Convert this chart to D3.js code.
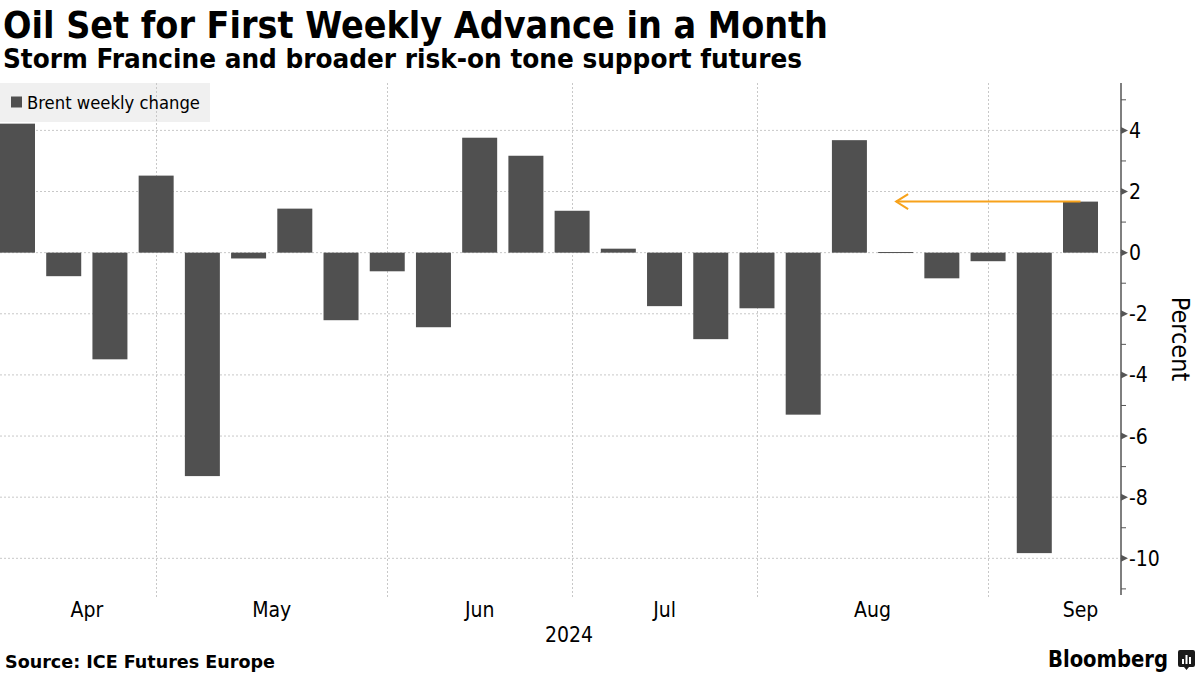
<!DOCTYPE html>
<html>
<head>
<meta charset="utf-8">
<script src="https://cdn.jsdelivr.net/npm/d3@7"></script>
<style>
  html, body { margin: 0; padding: 0; background: #fff; }
  svg { display: block; }
  text { font-family: 'Liberation Sans Narrow', 'DejaVu Sans Condensed', 'Liberation Sans', sans-serif; fill: #000; }
</style>
</head>
<body>
<svg id="chart" width="1200" height="675"></svg>
<script>
// ---- Data ----
const weekDates = ["2024-04-05","2024-04-12","2024-04-19","2024-04-26","2024-05-03","2024-05-10","2024-05-17","2024-05-24","2024-05-31","2024-06-07","2024-06-14","2024-06-21","2024-06-28","2024-07-05","2024-07-12","2024-07-19","2024-07-26","2024-08-02","2024-08-09","2024-08-16","2024-08-23","2024-08-30","2024-09-06","2024-09-13"];
const brentWeeklyChange = [4.22,-0.77,-3.49,2.52,-7.31,-0.19,1.44,-2.21,-0.61,-2.44,3.76,3.17,1.37,0.13,-1.75,-2.83,-1.82,-5.30,3.68,0.02,-0.84,-0.28,-9.83,1.67];
const monthLabels = ["Apr","May","Jun","Jul","Aug","Sep"];
const yearLabel = "2024";
const yTickValues = [-10,-8,-6,-4,-2,0,2,4];
const yMinorTickValues = [-11,-9,-7,-5,-3,-1,1,3,5];
const seriesName = "Brent weekly change";
const titleText = "Oil Set for First Weekly Advance in a Month";
const subtitleText = "Storm Francine and broader risk-on tone support futures";
const sourceText = "Source: ICE Futures Europe";
const yAxisTitle = "Percent";

// ---- Layout ----
const svg = d3.select("#chart");
const parse = d3.timeParse("%Y-%m-%d");
const dates = weekDates.map(parse);
const data = dates.map((d, i) => ({ date: d, value: brentWeeklyChange[i] }));

const plotLeft = 0, plotRight = 1121, plotTop = 83, plotBottom = 595;
const barW = 35;

const x = d3.scaleTime()
  .domain([dates[0], dates[dates.length - 1]])
  .range([17.5, 1080.5]);
const y = d3.scaleLinear().domain([-11.2, 5.55]).range([plotBottom, plotTop]);

const gridColor = "#c8c8c8";
const barColor = "#505050";

// month boundaries: last week of each month (except the final month)
const monthGroups = d3.groups(data, d => d.date.getMonth());
const boundaryDates = monthGroups.slice(0, -1).map(g => g[1][g[1].length - 1].date);

// Legend background
svg.append("rect").attr("x", 0).attr("y", 83).attr("width", 210).attr("height", 39).attr("fill", "#f0f0f0");

// Horizontal grid
svg.append("g").selectAll("line").data(yTickValues).join("line")
  .attr("x1", plotLeft).attr("x2", plotRight)
  .attr("y1", d => y(d)).attr("y2", d => y(d))
  .attr("stroke", gridColor).attr("stroke-width", 1).attr("stroke-dasharray", "2,2");

// Vertical grid (month boundaries)
svg.append("g").selectAll("line").data(boundaryDates).join("line")
  .attr("x1", d => Math.round(x(d)) + 0.5).attr("x2", d => Math.round(x(d)) + 0.5)
  .attr("y1", plotTop).attr("y2", 598)
  .attr("stroke", gridColor).attr("stroke-width", 1).attr("stroke-dasharray", "2,2");

// Bars
svg.append("g").selectAll("rect").data(data).join("rect")
  .attr("x", d => x(d.date) - barW / 2)
  .attr("width", barW)
  .attr("y", d => y(Math.max(0, d.value)))
  .attr("height", d => Math.max(1, Math.abs(y(d.value) - y(0))))
  .attr("fill", barColor);

// Annotation arrow (from last bar top leftwards)
const last = data[data.length - 1];
const ay = y(last.value);
const ax1 = x(last.date), ax0 = x(d3.timeDay.offset(last.date, -28)) + 0.5;
const arrowColor = "#f7a21b";
svg.append("line").attr("x1", ax0).attr("x2", ax1).attr("y1", ay).attr("y2", ay)
  .attr("stroke", arrowColor).attr("stroke-width", 2);
svg.append("path")
  .attr("d", `M${ax0 + 12},${ay - 7.5} L${ax0},${ay} L${ax0 + 12},${ay + 7.5}`)
  .attr("fill", "none").attr("stroke", arrowColor).attr("stroke-width", 2);

// Legend
svg.append("rect").attr("x", 11).attr("y", 96.5).attr("width", 11).attr("height", 11).attr("fill", barColor);
svg.append("text").attr("x", 27).attr("y", 109).attr("font-size", 18)
  .attr("textLength", 173).attr("lengthAdjust", "spacingAndGlyphs").text(seriesName);

// Y axis (right)
const axisX = plotRight;
svg.append("line").attr("x1", axisX).attr("x2", axisX).attr("y1", plotTop).attr("y2", plotBottom)
  .attr("stroke", "#555").attr("stroke-width", 1.5);
svg.append("g").selectAll("path").data(yTickValues).join("path")
  .attr("d", d => `M${axisX},${y(d) - 3.5} L${axisX + 7},${y(d)} L${axisX},${y(d) + 3.5} Z`)
  .attr("fill", "#555");
svg.append("g").selectAll("line").data(yMinorTickValues).join("line")
  .attr("x1", axisX).attr("x2", axisX + 5)
  .attr("y1", d => y(d)).attr("y2", d => y(d))
  .attr("stroke", "#555").attr("stroke-width", 1);
svg.append("g").selectAll("text").data(yTickValues).join("text")
  .attr("x", axisX + 8).attr("y", d => y(d) + 7.5)
  .attr("font-size", 21)
  .text(d => d < 0 ? "-" + Math.abs(d) : String(d));

svg.append("text")
  .attr("transform", `translate(1172,339) rotate(90)`)
  .attr("text-anchor", "middle").attr("font-size", 25)
  .text(yAxisTitle);

// X axis month labels: centered between boundaries
const xb = [x(dates[0]), ...boundaryDates.map(d => x(d)), x(parse("2024-09-27"))];
const labelPos = monthLabels.map((m, i) => ({ m, cx: (xb[i] + xb[i + 1]) / 2 }));
svg.append("g").selectAll("text").data(labelPos).join("text")
  .attr("x", d => d.cx).attr("y", 617).attr("text-anchor", "middle").attr("font-size", 21)
  .text(d => d.m);
svg.append("text").attr("x", 569).attr("y", 642).attr("text-anchor", "middle").attr("font-size", 21).text(yearLabel);

// Titles
svg.append("text").attr("x", 3).attr("y", 38).attr("font-size", 38).attr("font-weight", "bold")
  .attr("textLength", 825).attr("lengthAdjust", "spacingAndGlyphs").text(titleText);
svg.append("text").attr("x", 3).attr("y", 68).attr("font-size", 26).attr("font-weight", "bold")
  .attr("textLength", 799).attr("lengthAdjust", "spacingAndGlyphs").text(subtitleText);

// Footer
svg.append("text").attr("x", 5).attr("y", 668).attr("font-size", 18).attr("font-weight", "bold")
  .attr("textLength", 270).attr("lengthAdjust", "spacingAndGlyphs").text(sourceText);
svg.append("text").attr("x", 1048).attr("y", 667).attr("font-size", 23).attr("font-weight", "bold")
  .attr("font-family", "'Liberation Sans', Arial, sans-serif")
  .attr("textLength", 120).attr("lengthAdjust", "spacingAndGlyphs").text("Bloomberg");
// Bloomberg icon
const ic = svg.append("g").attr("transform", "translate(1178,650)");
ic.append("path").attr("d", "M2,0 H15 Q17,0 17,2 V15 Q17,17 15,17 H11 L8.5,20 L6,17 H2 Q0,17 0,15 V2 Q0,0 2,0 Z").attr("fill", "#1a1a1a");
[[4,9,2,5],[7.5,5,2,9],[11,7,2,7]].forEach(b => ic.append("rect").attr("x", b[0]).attr("y", b[1]).attr("width", b[2]).attr("height", b[3]).attr("fill", "#fff"));
</script>
</body>
</html>
